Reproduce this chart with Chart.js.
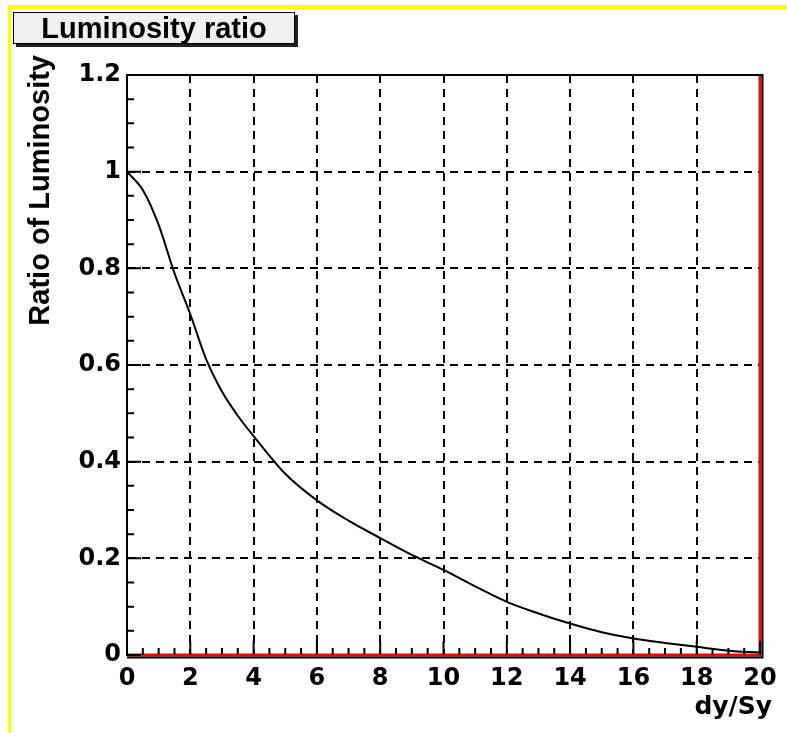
<!DOCTYPE html>
<html>
<head>
  <title>Luminosity ratio</title>
  <script src="https://cdn.jsdelivr.net/npm/chart.js"></script>
  <style>
    body {
      margin: 0;
      background: #fff;
    }
    #wrap {
      position: relative;
      width: 787px;
      height: 733px;
    }
    #frame {
      position: absolute;
      left: 8px;
      top: 5px;
      right: 0;
      bottom: 0;
      border-top: 4px solid #ffff00;
      border-left: 3px solid #ffff00;
      pointer-events: none;
    }
    #title {
      position: absolute;
      left: 13px;
      top: 12px;
      width: 280px;
      height: 30px;
      line-height: 31px;
      background: #f0f0f0;
      border: 1px solid #000;
      box-shadow: 3px 3px 0 #222;
      font-family: "Liberation Sans", Arial, sans-serif;
      font-weight: bold;
      font-size: 29px;
      text-align: center;
    }
  </style>
</head>
<body>

  <div id="wrap">
    <canvas id="lumiChart"></canvas>
    <div id="frame"></div>
    <div id="title">Luminosity ratio</div>
  </div>

  <script>
    // luminosity ratio vs. vertical offset dy/Sy
    const dyValues = [0, 0.5, 1, 1.5, 2, 2.5, 3, 3.5, 4, 5, 6, 7, 8, 9, 10, 11, 12, 13, 14, 15, 16, 17, 18, 19, 20];
    const ratioValues = [1.0, 0.962, 0.89, 0.79, 0.705, 0.612, 0.545, 0.495, 0.453, 0.375, 0.32, 0.278, 0.242, 0.207, 0.176, 0.142, 0.11, 0.086, 0.065, 0.047, 0.034, 0.025, 0.017, 0.009, 0.005];

    // red reference frame (zero line + edge at dy/Sy = 20)
    const refX = [0, 20, 20];
    const refY = [0, 0, 1.2];

    const xTicks = [0, 2, 4, 6, 8, 10, 12, 14, 16, 18, 20];
    const yTicks = [0, 0.2, 0.4, 0.6, 0.8, 1.0, 1.2];

    const FONT = '"DejaVu Sans", sans-serif';
    const TITLE_FONT = '"Liberation Sans", Arial, sans-serif';

    // inner tick marks, top/right frame and axis titles
    const rootFrame = {
      id: 'rootFrame',
      afterDatasetsDraw(chart) {
        const { ctx, chartArea: ca, scales } = chart;
        ctx.save();
        ctx.strokeStyle = '#000';
        ctx.lineWidth = 2;
        ctx.beginPath();
        ctx.moveTo(ca.left, ca.top);
        ctx.lineTo(ca.right + 2.5, ca.top);
        ctx.lineTo(ca.right + 2.5, ca.bottom + 2.5);
        ctx.lineTo(ca.left, ca.bottom + 2.5);
        ctx.stroke();

        ctx.beginPath();
        for (let i = 0; i <= 40; i++) {
          const px = scales.x.getPixelForValue(i * 0.5);
          const len = i % 4 === 0 ? 14 : 7;
          ctx.moveTo(px, ca.bottom);
          ctx.lineTo(px, ca.bottom - len);
        }
        for (let i = 0; i <= 24; i++) {
          const py = scales.y.getPixelForValue(i * 0.05);
          const len = i % 4 === 0 ? 14 : 7;
          ctx.moveTo(ca.left, py);
          ctx.lineTo(ca.left + len, py);
        }
        ctx.stroke();

        ctx.fillStyle = '#000';
        ctx.font = 'bold 25px ' + FONT;
        ctx.textAlign = 'right';
        ctx.textBaseline = 'alphabetic';
        ctx.fillText('dy/Sy', 772, 714);

        ctx.font = 'bold 29px ' + TITLE_FONT;
        ctx.translate(49, 55);
        ctx.rotate(-Math.PI / 2);
        ctx.fillText('Ratio of Luminosity', 0, 0);
        ctx.restore();
      }
    };

    const ctx = document.getElementById('lumiChart').getContext('2d');
    new Chart(ctx, {
      type: 'line',
      data: {
        datasets: [
          {
            label: 'Luminosity ratio',
            data: dyValues.map((x, i) => ({ x: x, y: ratioValues[i] })),
            borderColor: '#000',
            borderWidth: 2,
            pointRadius: 0,
            cubicInterpolationMode: 'monotone',
            fill: false
          },
          {
            label: 'reference',
            data: refX.map((x, i) => ({ x: x, y: refY[i] })),
            borderColor: '#ff0000',
            borderWidth: 3,
            pointRadius: 0,
            tension: 0,
            clip: 6,
            fill: false
          }
        ]
      },
      options: {
        responsive: true,
        maintainAspectRatio: false,
        animation: false,
        layout: {
          padding: { top: 75, right: 27, left: 0, bottom: 0 }
        },
        plugins: {
          legend: { display: false },
          tooltip: { enabled: false }
        },
        scales: {
          x: {
            type: 'linear',
            min: 0,
            max: 20,
            afterFit: (scale) => { scale.height = 78; },
            afterBuildTicks: (scale) => { scale.ticks = xTicks.map(v => ({ value: v })); },
            grid: { color: '#000', lineWidth: 2, drawTicks: false },
            border: { display: true, color: '#000', width: 2, dash: [8, 6] },
            ticks: {
              color: '#000',
              padding: 9,
              maxRotation: 0,
              font: { family: FONT, weight: 'bold', size: 24 }
            }
          },
          y: {
            type: 'linear',
            min: 0,
            max: 1.2,
            afterFit: (scale) => { scale.width = 127; },
            afterBuildTicks: (scale) => { scale.ticks = yTicks.map(v => ({ value: v })); },
            grid: { color: '#000', lineWidth: 2, drawTicks: false },
            border: { display: true, color: '#000', width: 2, dash: [8, 6] },
            ticks: {
              color: '#000',
              padding: 6,
              callback: (v) => String(Math.round(v * 10) / 10),
              font: { family: FONT, weight: 'bold', size: 24 }
            }
          }
        }
      },
      plugins: [rootFrame]
    });
  </script>

</body>
</html>
